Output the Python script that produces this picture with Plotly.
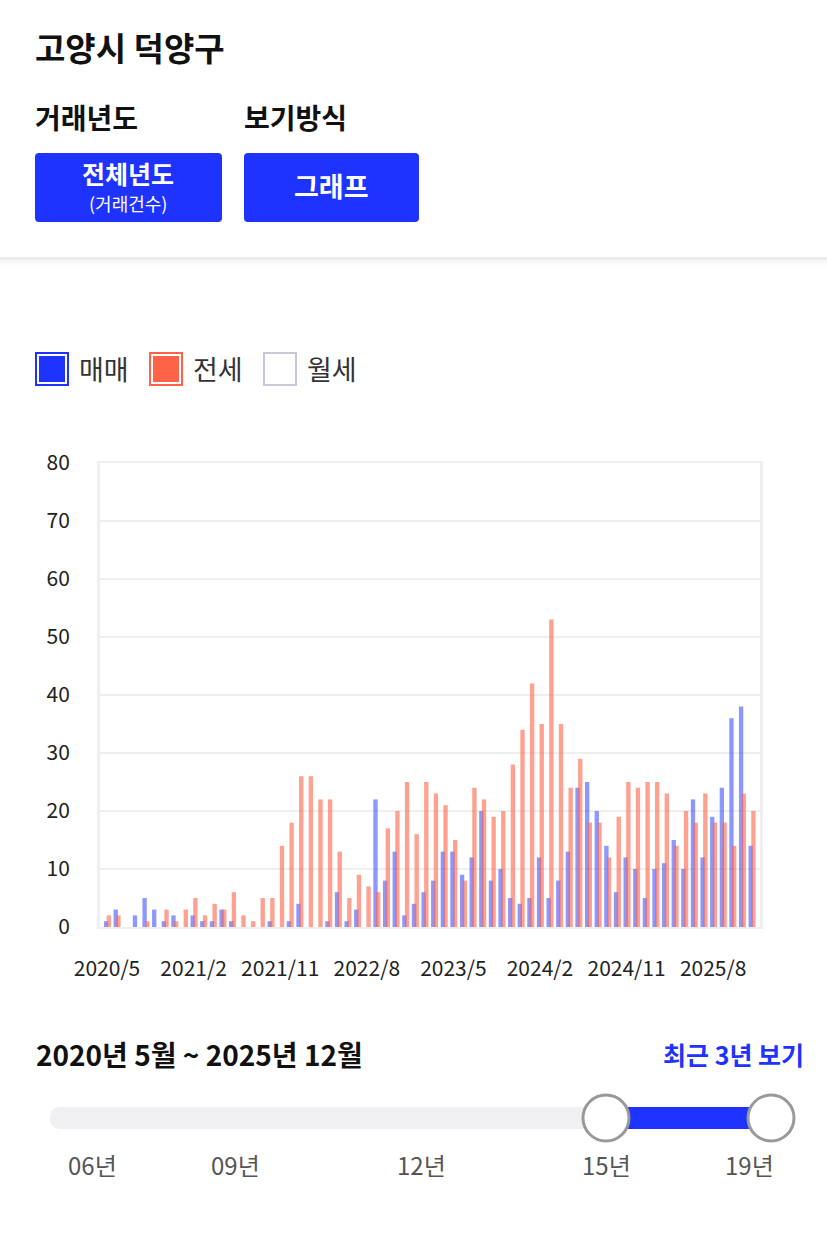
import plotly.graph_objects as go

# -- Data --
months = [
    "2020/5", "2020/6", "2020/7", "2020/8", "2020/9", "2020/10", "2020/11", "2020/12",
    "2021/1", "2021/2", "2021/3", "2021/4", "2021/5", "2021/6", "2021/7", "2021/8",
    "2021/9", "2021/10", "2021/11", "2021/12", "2022/1", "2022/2", "2022/3", "2022/4",
    "2022/5", "2022/6", "2022/7", "2022/8", "2022/9", "2022/10", "2022/11", "2022/12",
    "2023/1", "2023/2", "2023/3", "2023/4", "2023/5", "2023/6", "2023/7", "2023/8",
    "2023/9", "2023/10", "2023/11", "2023/12", "2024/1", "2024/2", "2024/3", "2024/4",
    "2024/5", "2024/6", "2024/7", "2024/8", "2024/9", "2024/10", "2024/11", "2024/12",
    "2025/1", "2025/2", "2025/3", "2025/4", "2025/5", "2025/6", "2025/7", "2025/8",
    "2025/9", "2025/10", "2025/11", "2025/12",
]

# 매매 (sale)
sale = [
    1, 3, 0, 2, 5, 3, 1, 2,
    0, 2, 1, 1, 3, 1, 0, 0,
    0, 1, 0, 1, 4, 0, 0, 1,
    6, 1, 3, 0, 22, 8, 13, 2,
    4, 6, 8, 13, 13, 9, 12, 20,
    8, 10, 5, 4, 5, 12, 5, 8,
    13, 24, 25, 20, 14, 6, 12, 10,
    5, 10, 11, 15, 10, 22, 12, 19,
    24, 36, 38, 14,
]

# 전세 (jeonse)
jeonse = [
    2, 2, 0, 0, 1, 0, 3, 1,
    3, 5, 2, 4, 3, 6, 2, 1,
    5, 5, 14, 18, 26, 26, 22, 22,
    13, 5, 9, 7, 6, 17, 20, 25,
    16, 25, 23, 21, 15, 8, 24, 22,
    19, 20, 28, 34, 42, 35, 53, 35,
    24, 29, 18, 18, 12, 19, 25, 24,
    25, 25, 23, 14, 20, 18, 23, 18,
    18, 14, 23, 20,
]

tick_labels = ["2020/5", "2021/2", "2021/11", "2022/8", "2023/5", "2024/2", "2024/11", "2025/8"]
y_ticks = [0, 10, 20, 30, 40, 50, 60, 70, 80]

legend_names = ["매매", "전세", "월세"]
slider_labels = ["06년", "09년", "12년", "15년", "19년"]

# -- Style --
FONT = "Noto Sans CJK KR"
BLUE = "#1E33FF"
RED = "#FF6347"
GRID = "#EFEFEF"

W, H = 827, 1258
L, R, T, B = 100, 760, 463, 927   # plot area in pixels


# -- Helpers: pixel -> paper coords --
def px(x):
    return (x - L) / (R - L)

def py(y):
    return (B - y) / (B - T)

def rect(x0, y0, x1, y1, fill, line_color=None, line_width=0):
    return dict(type="rect", xref="paper", yref="paper", layer="above",
                x0=px(x0), x1=px(x1), y0=py(y1), y1=py(y0),
                fillcolor=fill, line=dict(color=line_color or fill, width=line_width))

def rounded(x0, y0, x1, y1, r, fill):
    pts = [
        ("M", [(x0 + r, y0)]), ("L", [(x1 - r, y0)]), ("Q", [(x1, y0), (x1, y0 + r)]),
        ("L", [(x1, y1 - r)]), ("Q", [(x1, y1), (x1 - r, y1)]), ("L", [(x0 + r, y1)]),
        ("Q", [(x0, y1), (x0, y1 - r)]), ("L", [(x0, y0 + r)]), ("Q", [(x0, y0), (x0 + r, y0)]),
    ]
    path = ""
    for cmd, ps in pts:
        path += cmd + " ".join(f"{px(a):.5f},{py(b):.5f}" for a, b in ps) + " "
    path += "Z"
    return dict(type="path", xref="paper", yref="paper", layer="above", path=path,
                fillcolor=fill, line=dict(width=0))

def circle(cx, cy, r, fill, line_color, line_width):
    return dict(type="circle", xref="paper", yref="paper", layer="above",
                x0=px(cx - r), x1=px(cx + r), y0=py(cy + r), y1=py(cy - r),
                fillcolor=fill, line=dict(color=line_color, width=line_width))

def text(x, y, s, size, color="#111", anchor="left", bold=False):
    return dict(xref="paper", yref="paper", x=px(x), y=py(y), text=f"<b>{s}</b>" if bold else s,
                showarrow=False, xanchor=anchor, yanchor="middle",
                font=dict(family=FONT, size=size, color=color))


# -- Figure --
fig = go.Figure()
fig.add_trace(go.Bar(x=months, y=sale, name=legend_names[0], marker_color=BLUE,
                     marker_line_width=0, opacity=0.5, width=0.45, offset=-0.32))
fig.add_trace(go.Bar(x=months, y=jeonse, name=legend_names[1], marker_color=RED,
                     marker_line_width=0, opacity=0.6, width=0.45, offset=-0.04))

shapes = []
annotations = []

# header panel
shapes.append(rect(0, 257, W, 260, "rgba(0,0,0,0.045)"))
shapes.append(rect(0, 257, W, 263, "rgba(0,0,0,0.02)"))
shapes.append(rect(0, 257, W, 267, "rgba(0,0,0,0.012)"))
annotations.append(text(33, 47, "고양시 덕양구", 33, bold=True))
annotations.append(text(33, 117, "거래년도", 28, bold=True))
annotations.append(text(242, 117, "보기방식", 28, bold=True))
shapes.append(rounded(35, 153, 222, 222, 4, BLUE))
shapes.append(rounded(244, 153, 419, 222, 4, BLUE))
annotations.append(text(128, 173, "전체년도", 25, "white", "center", bold=True))
annotations.append(text(128, 203, "(거래건수)", 18, "white", "center"))
annotations.append(text(331, 186, "그래프", 27, "white", "center", bold=True))

# legend
legend_x = [35, 149, 263]
legend_fill = [BLUE, RED, "white"]
legend_line = [BLUE, RED, "#C8C8D6"]
for lx, name, fill, lc in zip(legend_x, legend_names, legend_fill, legend_line):
    shapes.append(rect(lx + 1, 353, lx + 33, 385, "white", lc, 2))
    if fill != "white":
        shapes.append(rect(lx + 4, 356, lx + 30, 382, fill))
    annotations.append(text(lx + 42, 368, name, 27, "#333"))

# period + slider
annotations.append(text(34, 1054, "2020년 5월 ~ 2025년 12월", 28, "#111", bold=True))
annotations.append(text(806, 1054, "최근 3년 보기", 25, BLUE, "right", bold=True))
shapes.append(rounded(50, 1107, 775, 1129, 11, "#F0F0F3"))
shapes.append(rect(605, 1107, 770, 1129, BLUE))
shapes.append(circle(606, 1118, 23, "white", "#999999", 3))
shapes.append(circle(771, 1118, 23, "white", "#999999", 3))
for lx, s in zip([92, 235, 421, 606, 749], slider_labels):
    annotations.append(text(lx, 1164, s, 24, "#555", "center"))

fig.update_layout(
    width=W, height=H,
    margin=dict(l=L, r=W - R, t=T, b=H - B, pad=0),
    paper_bgcolor="white", plot_bgcolor="white",
    barmode="overlay", showlegend=False,
    font=dict(family=FONT, color="#222"),
    shapes=shapes, annotations=annotations,
    xaxis=dict(type="category", range=[-0.73, 67.87], tickvals=tick_labels,
               ticks="outside", ticklen=22, tickcolor="rgba(0,0,0,0)",
               tickfont=dict(size=21, color="#222"), showgrid=False,
               showline=True, linecolor=GRID, linewidth=2, mirror=True),
    yaxis=dict(range=[0, 80], tickvals=y_ticks, ticks="outside", ticklen=23,
               tickcolor="rgba(0,0,0,0)", tickfont=dict(size=21, color="#222"),
               gridcolor=GRID, gridwidth=1.5, zeroline=False,
               showline=True, linecolor=GRID, linewidth=3, mirror=True),
)

fig.write_html("out.html", config=dict(displayModeBar=False),
               post_script="document.body.style.margin='0';")
